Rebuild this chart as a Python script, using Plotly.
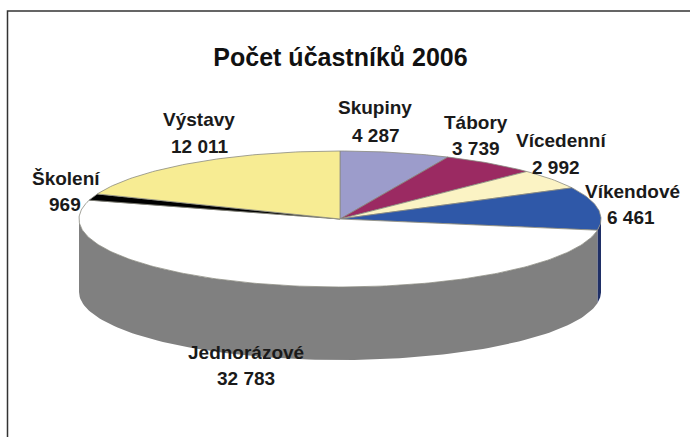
import numpy as np
import plotly.graph_objects as go

categories = ["Skupiny", "Tábory", "Vícedenní", "Víkendové", "Jednorázové", "Školení", "Výstavy"]
values = [4287, 3739, 2992, 6461, 32783, 969, 12011]
title = "Počet účastníků 2006"

W, H = 690, 437
CX, CY, RX, RY, DEPTH = 340.0, 219.0, 261.0, 68.0, 73.0
top_colors = ["#9c9ccb", "#9b2a62", "#fbf3c4", "#2f58a8", "#ffffff", "#000000", "#f7ec93"]
side_colors = {"Víkendové": "#1f2f66", "Jednorázové": "#808080"}
# name centre (x, y), value centre (x, y), in page pixels
label_px = {
    "Skupiny": ((375, 108), (376, 135)),
    "Tábory": ((476, 122), (476, 148)),
    "Vícedenní": ((561, 141), (556, 167)),
    "Víkendové": ((632, 192), (631, 218)),
    "Jednorázové": ((246, 352), (246, 378)),
    "Školení": ((66, 178), (65, 204)),
    "Výstavy": ((199, 119), (199, 146)),
}

depth_u = DEPTH / RY
fractions = np.array(values) / sum(values)
edges = np.concatenate([[0], np.cumsum(fractions)]) * 2 * np.pi


def fmt(v):
    return f"{v:,}".replace(",", " ")


fig = go.Figure()
# side walls (only the front half of the disc is visible)
for i, name in enumerate(categories):
    a0, a1 = max(edges[i], np.pi / 2), min(edges[i + 1], 3 * np.pi / 2)
    if a1 <= a0:
        continue
    t = np.linspace(a0, a1, 120)
    x = np.concatenate([np.sin(t), np.sin(t[::-1])])
    y = np.concatenate([np.cos(t), np.cos(t[::-1]) - depth_u])
    fig.add_trace(go.Scatter(x=x, y=y, mode="lines", fill="toself",
                             fillcolor=side_colors.get(name, "#808080"),
                             line=dict(width=0), hoverinfo="skip", showlegend=False))
# top slices
for i, name in enumerate(categories):
    t = np.linspace(edges[i], edges[i + 1], max(int((edges[i + 1] - edges[i]) * 60), 8))
    x = np.concatenate([[0], np.sin(t), [0]])
    y = np.concatenate([[0], np.cos(t), [0]])
    fig.add_trace(go.Scatter(x=x, y=y, mode="lines", fill="toself", fillcolor=top_colors[i],
                             line=dict(width=0.8, color="#8a8a80"), name=name,
                             hoverinfo="name", showlegend=False))

for name, v in zip(categories, values):
    for txt, (px, py) in zip((name, fmt(v)), label_px[name]):
        fig.add_annotation(x=px / W, y=1 - py / H, xref="paper", yref="paper",
                           text=f"<b>{txt}</b>", showarrow=False,
                           font=dict(family="Liberation Sans", size=19, color="#1a1a1a"),
                           xanchor="center", yanchor="middle")

fig.update_layout(
    width=W, height=H, margin=dict(l=0, r=0, t=0, b=0),
    paper_bgcolor="white", plot_bgcolor="white",
    title=dict(text=f"<b>{title}</b>", x=340.5 / W, xanchor="center", y=1 - 57 / H, yanchor="middle",
               font=dict(family="Liberation Sans", size=25, color="#111111")),
    xaxis=dict(range=[-CX / RX, (W - CX) / RX], visible=False, fixedrange=True),
    yaxis=dict(range=[(CY - H) / RY, CY / RY], visible=False, fixedrange=True),
    shapes=[dict(type="path", xref="paper", yref="paper",
                 path=f"M {7.5/W} 0 L {7.5/W} {1-11/H} L 1 {1-11/H}",
                 line=dict(color="#333333", width=1.5))],
)
fig.write_html("out.html", config={"displayModeBar": False},
               post_script="document.body.style.margin='0';document.body.style.overflow='hidden';")
